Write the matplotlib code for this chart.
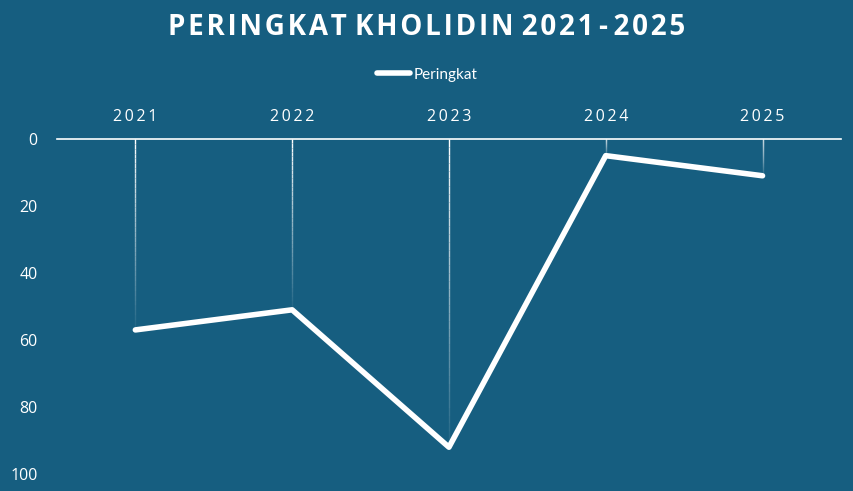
import matplotlib
matplotlib.use("Agg")
import matplotlib.pyplot as plt
import numpy as np
from matplotlib.collections import LineCollection

BG = "#165E80"
WHITE = "#FFFFFF"

years = ["2021", "2022", "2023", "2024", "2025"]
ranks = [57, 51, 92, 5, 11]

plt.rcParams["font.family"] = ["Lato", "DejaVu Sans"]

fig = plt.figure(figsize=(8.54, 4.91), dpi=100)
fig.patch.set_facecolor(BG)
ax = fig.add_axes([0.0667, 0.0346, 0.918, 0.6825])
ax.set_facecolor(BG)

x = np.arange(len(years))

# drop lines fading from the axis down to each point
for xi, yi in zip(x, ranks):
    ys = np.linspace(0, yi, 40)
    segs = [[(xi, ys[i]), (xi, ys[i + 1])] for i in range(len(ys) - 1)]
    alphas = np.linspace(1.0, 0.05, len(segs))
    cols = [(1, 1, 1, a) for a in alphas]
    ax.add_collection(LineCollection(segs, colors=cols, linewidths=1.0, zorder=1))

ax.plot(x, ranks, color=WHITE, lw=4, solid_capstyle="round",
        solid_joinstyle="round", label="Peringkat", zorder=3)

ax.set_xlim(-0.5, len(years) - 0.5)
ax.set_ylim(100, 0)
ax.set_yticks([0, 20, 40, 60, 80, 100])
ax.set_xticks(x)
# letter-spaced year labels like the reference
ax.set_xticklabels(["\u2009".join(y) for y in years], family=["Open Sans", "DejaVu Sans"])
ax.xaxis.tick_top()
ax.tick_params(axis="x", length=0, pad=10, colors=WHITE, labelsize=11.5)
ax.tick_params(axis="y", length=0, pad=14, colors=WHITE, labelsize=11.5)
for lbl in ax.get_yticklabels():
    lbl.set_family(["Open Sans", "DejaVu Sans"])
for s in ("left", "right", "bottom"):
    ax.spines[s].set_visible(False)
ax.spines["top"].set_color(WHITE)
ax.spines["top"].set_linewidth(1.2)

fig.text(0.5, 0.945, "P E R I N G K A T   K H O L I D I N   2 0 2 1  -  2 0 2 5".replace(" ", "\u200a"),
         ha="center", va="center", color=WHITE, fontsize=20, fontweight="bold",
         family=["Open Sans", "DejaVu Sans"])
fig.legend(handles=ax.get_lines(), loc="center", bbox_to_anchor=(0.5, 0.848),
           frameon=False, labelcolor=WHITE, fontsize=11, handlelength=2.2,
           handletextpad=0.2)

fig.savefig("out.png", facecolor=BG)
